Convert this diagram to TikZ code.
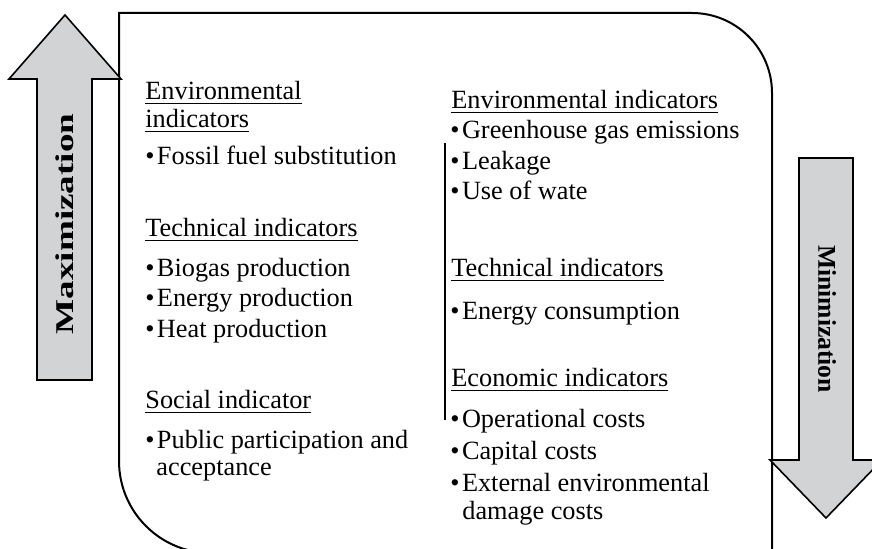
\documentclass[tikz,border=0pt]{standalone}
\usepackage{fontspec}
\setmainfont{Liberation Serif}
\newcommand{\bul}{•\kern1.2pt}
\begin{document}
\begin{tikzpicture}[x=0.5pt,y=-0.5pt,
  txt/.style={anchor=base west,inner sep=0pt,font=\fontsize{13.15pt}{15pt}\selectfont},
  bigarrow/.style={draw=black,line width=0.8pt,fill=arrowgray,line join=miter},
  arrowlbl/.style={inner sep=0pt,font=\fontsize{12.8pt}{15pt}\selectfont\bfseries},
  frame/.style={draw=black,line width=1pt}]
\definecolor{arrowgray}{RGB}{209,211,212}
\useasboundingbox (0,0) rectangle (872,549);
% main frame
\draw[frame] (119,13) -- (692,13) arc[start angle=-90,end angle=0,radius=80] -- (772,553) -- (211,553) arc[start angle=90,end angle=180,radius=92] -- cycle;
% arrows
\draw[bigarrow] (37,380) -- (37,79) -- (9,79) -- (65,15) -- (121,79) -- (92,79) -- (92,380) -- cycle;
\draw[bigarrow] (799,158) -- (853,158) -- (853,460) -- (882,460) -- (826,518) -- (770,460) -- (799,460) -- cycle;
\node[arrowlbl,rotate=90] (maxl) at (65,224) {\scalebox{1.45}[1]{Maximization}};
\node[arrowlbl,rotate=-90] (minl) at (827,319) {Minimization};
% separator
\coordinate (s1) at (445,143);
\coordinate (s2) at (445,420);
\draw[line width=1pt] (s1) -- (s2);
% left column
\node[txt] (l1) at (145,100) {\underline{Environmental}};
\node[txt] (l2) at (145,128) {\underline{indicators}};
\node[txt] (l3) at (145,165) {\bul Fossil fuel substitution};
\node[txt] (l4) at (145,237) {\underline{Technical indicators}};
\node[txt] (l5) at (145,277) {\bul Biogas production};
\node[txt] (l6) at (145,307) {\bul Energy production};
\node[txt] (l7) at (145,338) {\bul Heat production};
\node[txt] (l8) at (145,409) {\underline{Social indicator}};
\node[txt] (l9) at (145,449) {\bul Public participation and};
\node[txt] (l10) at (156,476) {acceptance};
% right column
\node[txt] (r1) at (451,109) {\underline{Environmental indicators}};
\node[txt] (r2) at (450,139) {\bul Greenhouse gas emissions};
\node[txt] (r3) at (450,170) {\bul Leakage};
\node[txt] (r4) at (450,200) {\bul Use of wate};
\node[txt] (r5) at (451,277) {\underline{Technical indicators}};
\node[txt] (r6) at (450,320) {\bul Energy consumption};
\node[txt] (r7) at (451,387) {\underline{Economic indicators}};
\node[txt] (r8) at (450,428) {\bul Operational costs};
\node[txt] (r9) at (450,460) {\bul Capital costs};
\node[txt] (r10) at (450,492) {\bul External environmental};
\node[txt] (r11) at (462,519) {damage costs};
\end{tikzpicture}
\end{document}
